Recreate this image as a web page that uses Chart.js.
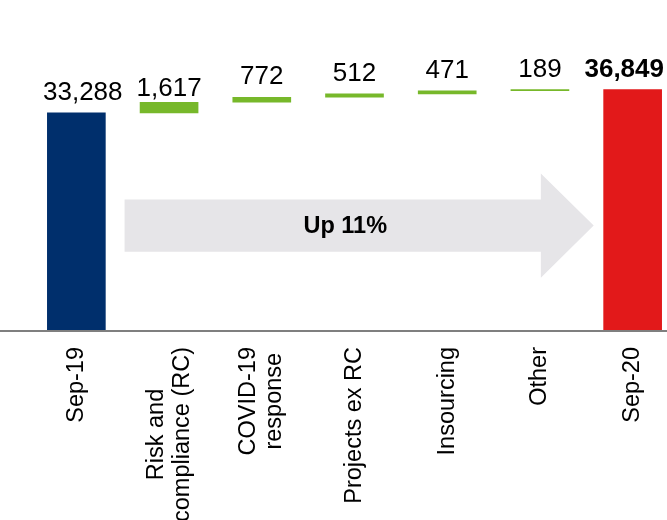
<!DOCTYPE html>
<html>
<head>
<meta charset="utf-8">
<script src="https://cdn.jsdelivr.net/npm/chart.js@4.4.1/dist/chart.umd.min.js"></script>
<style>
  html, body { margin: 0; padding: 0; background: #fff; overflow: hidden; }
  #wrap { width: 667px; height: 520px; overflow: hidden; }
  canvas { display: block; }
</style>
</head>
<body>
<div id="wrap"><canvas id="waterfall" width="679" height="520" style="width:679px;height:520px"></canvas></div>
<script>
// Categorias (rótulos com várias linhas)
const categories = [
    ['Sep-19'],
    ['Risk and', 'compliance (RC)'],
    ['COVID-19', 'response'],
    ['Projects ex RC'],
    ['Insourcing'],
    ['Other'],
    ['Sep-20']
];
// Totais inicial e final
const totals = [33288, 36849];
// Variações entre os dois totais
const increments = [1617, 772, 512, 471, 189];
const arrowText = 'Up 11%';

const FONT = '"Liberation Sans", Arial, sans-serif';
const NAVY = '#002f6c';
const GREEN = '#77b82a';
const RED = '#e2191a';

// Monta as barras flutuantes da cascata
const floating = [[0, totals[0]]];
let running = totals[0];
increments.forEach((v) => {
    floating.push([running, running + v]);
    running += v;
});
floating.push([0, totals[1]]);
const labelValues = [totals[0], ...increments, totals[1]];
const barColors = [NAVY, ...increments.map(() => GREEN), RED];

// Seta cinza ao fundo
const arrowPlugin = {
    id: 'arrow',
    beforeDatasetsDraw(chart) {
        const { ctx, scales: { x, y } } = chart;
        const x0 = x.getPixelForValue(0.52);
        const xh = x.getPixelForValue(5.01);
        const xt = x.getPixelForValue(5.58);
        const b1 = y.getPixelForValue(20000);
        const b2 = y.getPixelForValue(12000);
        const h1 = y.getPixelForValue(24000);
        const h2 = y.getPixelForValue(8000);
        const ym = y.getPixelForValue(16000);
        ctx.save();
        ctx.fillStyle = '#e6e5e8';
        ctx.beginPath();
        ctx.moveTo(x0, b1);
        ctx.lineTo(xh, b1);
        ctx.lineTo(xh, h1);
        ctx.lineTo(xt, ym);
        ctx.lineTo(xh, h2);
        ctx.lineTo(xh, b2);
        ctx.lineTo(x0, b2);
        ctx.closePath();
        ctx.fill();
        ctx.fillStyle = '#000';
        ctx.font = 'bold 23.5px ' + FONT;
        ctx.textAlign = 'center';
        ctx.textBaseline = 'middle';
        ctx.fillText(arrowText, x.getPixelForValue(2.9), ym + 1);
        ctx.restore();
    }
};

// Linha do eixo, valores e rótulos das categorias
const labelsPlugin = {
    id: 'labels',
    afterDatasetsDraw(chart) {
        const { ctx, chartArea, scales: { x, y } } = chart;
        const meta = chart.getDatasetMeta(0);
        const base = y.getPixelForValue(0);
        ctx.save();

        ctx.strokeStyle = '#7f7f7f';
        ctx.lineWidth = 2;
        ctx.beginPath();
        ctx.moveTo(0, base + 1);
        ctx.lineTo(chart.width, base + 1);
        ctx.stroke();

        ctx.fillStyle = '#000';
        ctx.textAlign = 'center';
        ctx.textBaseline = 'alphabetic';
        meta.data.forEach((bar, i) => {
            const last = i === meta.data.length - 1;
            ctx.font = (last ? 'bold ' : '') + '26px ' + FONT;
            const txt = labelValues[i].toLocaleString('en-US');
            const w = ctx.measureText(txt).width;
            let cx = bar.x;
            if (cx - w / 2 < chartArea.left + 13) cx = chartArea.left + 13 + w / 2;
            if (cx + w / 2 > 664) cx = 664 - w / 2;
            const gap = i === 1 ? 6 : 13;
            ctx.fillText(txt, cx, Math.min(bar.y, bar.base) - gap);
        });

        ctx.font = '23.5px ' + FONT;
        ctx.textBaseline = 'middle';
        const top = base + 17;
        const lineH = 26;
        categories.forEach((lines, i) => {
            const cx = x.getPixelForValue(i);
            const maxW = Math.max(...lines.map((l) => ctx.measureText(l).width));
            ctx.save();
            ctx.translate(cx, top + maxW / 2);
            ctx.rotate(-Math.PI / 2);
            lines.forEach((l, j) => {
                ctx.fillText(l, 0, (j - (lines.length - 1) / 2) * lineH);
            });
            ctx.restore();
        });
        ctx.restore();
    }
};

const ctx = document.getElementById('waterfall').getContext('2d');
const chart = new Chart(ctx, {
    type: 'bar',
    data: {
        labels: categories,
        datasets: [{
            data: floating,
            backgroundColor: barColors,
            borderWidth: 0,
            borderSkipped: false,
            barThickness: 58
        }]
    },
    options: {
        responsive: false,
        animation: false,
        layout: { padding: { left: 30, right: 0, top: 69, bottom: 190 } },
        scales: {
            x: { display: false },
            y: { display: false, min: 0, max: 40000 }
        },
        plugins: {
            legend: { display: false },
            tooltip: { enabled: false }
        }
    },
    plugins: [arrowPlugin, labelsPlugin]
});
</script>
</body>
</html>
